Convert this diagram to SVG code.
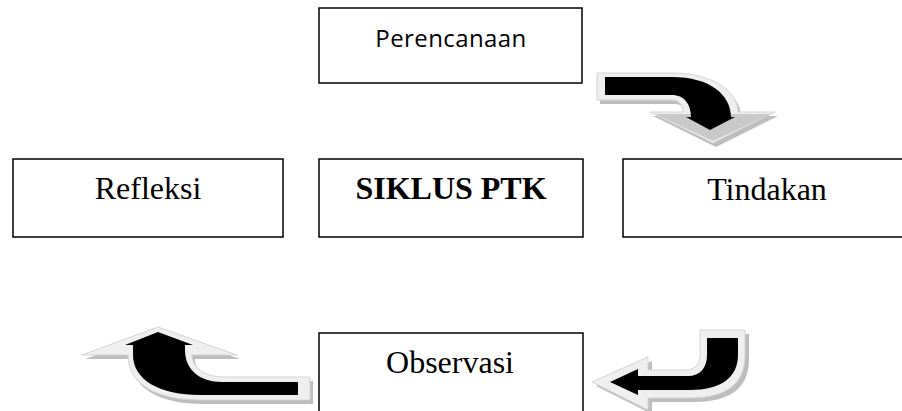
<svg xmlns="http://www.w3.org/2000/svg" width="902" height="411" viewBox="0 0 902 411">
<style>
.box{fill:#fff;stroke:#000;stroke-width:1.5}
.t{font-family:"Liberation Serif","Times New Roman",serif;font-size:32px;fill:#000;text-anchor:middle}
.b{font-weight:bold}
.s{font-family:"Open Sans","Noto Sans",sans-serif;font-size:24px;fill:#000;text-anchor:middle;letter-spacing:0.4px}
.shadow{fill:#bdbdbd}
.outer{fill:#efefef;stroke:#d4d4d4;stroke-width:1}
.head{fill:#c9c9c9}
.core{fill:#000}
</style>
<rect width="902" height="411" fill="#fff"/>
<g id="perencanaan"><rect class="box" x="319" y="8" width="263" height="75"/><text class="s" x="451" y="47">Perencanaan</text></g>
<g id="refleksi"><rect class="box" x="13" y="159" width="270" height="78"/><text class="t" x="148" y="199">Refleksi</text></g>
<g id="siklus"><rect class="box" x="319" y="159" width="264" height="78"/><text class="t b" x="451" y="199">SIKLUS PTK</text></g>
<g id="tindakan"><rect class="box" x="623" y="159" width="290" height="78"/><text class="t" x="767" y="200">Tindakan</text></g>
<g id="observasi"><rect class="box" x="319" y="333" width="264" height="90"/><text class="t" x="450" y="373">Observasi</text></g>
<g id="connectors">
<g id="arrow1">
<path class="shadow" transform="translate(3,4)" d="M597,73 L672,73 C715,73 738,93 738,112 L775,112 L713,143 L650,112 L683,112 C683,104 678,100 672,100 L597,100 Z"/>
<path class="outer" d="M597,73 L672,73 C715,73 738,93 738,112 L775,112 L713,143 L650,112 L683,112 C683,104 678,100 672,100 L597,100 Z"/>
<path class="head" d="M655,114 L771,114 L713,141 Z"/>
<path class="core" d="M605,77 L672,77 C710,77 731,95 731,117 L735,117 L710,130 L686,117 L691,117 C691,104 684,95 672,95 L605,95 Z"/>
</g>
<g id="arrow2">
<path class="shadow" transform="translate(3,4)" d="M310,377 L225,377 C205,377 192,368 192,355 L237,355 L158,327 L82,355 L128,355 C128,385 158,400 200,400 L310,400 Z"/>
<path class="outer" d="M310,377 L225,377 C205,377 192,368 192,355 L237,355 L158,327 L82,355 L128,355 C128,385 158,400 200,400 L310,400 Z"/>
<path class="core" d="M298,382 L222,382 C200,382 185,370 185,350 L185,345 L193,345 L158,332 L125,345 L133,345 L133,355 C133,380 160,395 200,395 L298,395 Z"/>
</g>
<g id="arrow3">
<path class="shadow" transform="translate(4,4)" d="M700,330 L745,330 L745,355 C745,385 725,398 690,398 L648,398 L648,410 L592,382 L648,357 L648,370 L685,370 C695,370 700,364 700,355 Z"/>
<path class="outer" d="M700,330 L745,330 L745,355 C745,385 725,398 690,398 L648,398 L648,410 L592,382 L648,357 L648,370 L685,370 C695,370 700,364 700,355 Z"/>
<path class="core" d="M707,338 L738,338 L738,355 C738,378 720,390 690,390 L638,390 L638,395 L610,382 L638,369 L638,376 L688,376 C700,376 707,368 707,355 Z"/>
</g>
</g>
</svg>
